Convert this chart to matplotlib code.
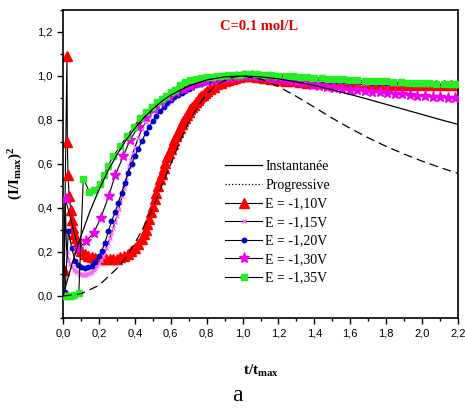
import matplotlib
matplotlib.use("Agg")
import matplotlib.pyplot as plt
from matplotlib.lines import Line2D
from matplotlib.ticker import MultipleLocator, FuncFormatter

# theoretical curves
inst_t = [0, 0.02, 0.05, 0.1, 0.15, 0.2, 0.25, 0.3, 0.35, 0.4, 0.45, 0.5, 0.55, 0.6, 0.7, 0.8,
          0.9, 1.0, 1.1, 1.2, 1.3, 1.4, 1.5, 1.6, 1.7, 1.8, 1.9, 2.0, 2.1, 2.2]
inst_y = [0, 0.06, 0.145, 0.272, 0.385, 0.482, 0.568, 0.642, 0.707, 0.762, 0.81, 0.85, 0.885, 0.913,
          0.955, 0.982, 0.996, 1.0, 0.996, 0.987, 0.973, 0.957, 0.937, 0.916, 0.894, 0.871, 0.848,
          0.825, 0.802, 0.78]
prog_t = [0, 0.1, 0.2, 0.3, 0.35, 0.4, 0.45, 0.5, 0.55, 0.6, 0.65, 0.7, 0.75, 0.8, 0.85, 0.9, 0.95,
          1.0, 1.1, 1.2, 1.3, 1.4, 1.5, 1.6, 1.7, 1.8, 1.9, 2.0, 2.1, 2.2]
prog_y = [0, 0.01, 0.048, 0.125, 0.175, 0.24, 0.315, 0.40, 0.50, 0.60, 0.70, 0.79, 0.86, 0.92, 0.955,
          0.98, 0.995, 1.0, 0.986, 0.952, 0.907, 0.858, 0.808, 0.762, 0.719, 0.68, 0.645, 0.613,
          0.584, 0.557]

# E = -1,10V (triangles)
red_t = [0.006, 0.022, 0.024, 0.028, 0.034, 0.044, 0.051, 0.058, 0.064, 0.07, 0.08, 0.09, 0.10,
         0.12, 0.14, 0.16, 0.18, 0.20, 0.22, 0.24, 0.26, 0.28, 0.30, 0.32, 0.34, 0.36, 0.38, 0.40,
         0.42, 0.44, 0.45, 0.46, 0.47, 0.48, 0.49, 0.50, 0.51, 0.52, 0.53, 0.54, 0.55, 0.56, 0.57,
         0.58, 0.59, 0.60, 0.61, 0.62, 0.63, 0.64, 0.65, 0.66, 0.67, 0.68, 0.69, 0.70, 0.71, 0.72,
         0.73, 0.74, 0.75, 0.76, 0.77, 0.78, 0.79, 0.80, 0.82, 0.84, 0.86, 0.88, 0.90, 0.92, 0.94,
         0.96, 0.98, 1.00, 1.02, 1.04, 1.06, 1.08, 1.10, 1.12, 1.14, 1.16, 1.18, 1.20, 1.24, 1.28,
         1.32, 1.36, 1.40, 1.44, 1.48, 1.52, 1.56, 1.60, 1.64, 1.68, 1.72, 1.76, 1.80, 1.84, 1.88,
         1.92, 1.96, 2.00, 2.04, 2.08, 2.12, 2.16, 2.20]
red_y = [0.12, 1.09, 0.70, 0.55, 0.455, 0.39, 0.345, 0.31, 0.28, 0.262, 0.238, 0.218, 0.205,
         0.19, 0.182, 0.176, 0.172, 0.169, 0.167, 0.166, 0.166, 0.167, 0.17, 0.175, 0.183, 0.193,
         0.205, 0.22, 0.238, 0.26, 0.28, 0.30, 0.325, 0.35, 0.38, 0.41, 0.44, 0.47, 0.50, 0.53,
         0.555, 0.58, 0.605, 0.63, 0.65, 0.67, 0.69, 0.71, 0.728, 0.745, 0.763, 0.78, 0.795, 0.81,
         0.823, 0.835, 0.848, 0.86, 0.87, 0.88, 0.89, 0.90, 0.908, 0.915, 0.923, 0.93, 0.942, 0.952,
         0.962, 0.97, 0.977, 0.983, 0.988, 0.992, 0.995, 0.998, 1.0, 1.0, 0.999, 0.997, 0.995,
         0.992, 0.99, 0.987, 0.985, 0.983, 0.979, 0.976, 0.973, 0.97, 0.968, 0.966, 0.965, 0.964,
         0.963, 0.962, 0.962, 0.961, 0.961, 0.96, 0.96, 0.96, 0.959, 0.959, 0.959, 0.958, 0.958,
         0.958, 0.957, 0.957, 0.957]

# E = -1,15V (x)
pink_t = [0.006, 0.012, 0.02, 0.03, 0.04, 0.05, 0.06, 0.07, 0.08, 0.09, 0.10, 0.11, 0.12, 0.13,
          0.14, 0.15, 0.16, 0.17, 0.18, 0.19, 0.20, 0.21, 0.22, 0.23, 0.24, 0.25, 0.26, 0.27, 0.28,
          0.29, 0.30, 0.31, 0.32, 0.33, 0.34, 0.35, 0.36, 0.37, 0.38, 0.39, 0.40, 0.42, 0.44, 0.46,
          0.48, 0.50, 0.52, 0.54, 0.56, 0.58, 0.60, 0.62, 0.64, 0.66, 0.68, 0.70, 0.72, 0.74, 0.76,
          0.78, 0.80, 0.84, 0.88, 0.92, 0.96, 1.00, 1.04, 1.08, 1.12, 1.16, 1.20, 1.24, 1.28, 1.32,
          1.36, 1.40, 1.44, 1.48, 1.52, 1.56, 1.60, 1.64, 1.68, 1.72, 1.76, 1.80, 1.84, 1.88, 1.92,
          1.96, 2.00, 2.04, 2.08, 2.12, 2.16, 2.20]
pink_y = [0.0, 0.44, 0.2, 0.165, 0.145, 0.13, 0.12, 0.113, 0.107, 0.101, 0.098, 0.096, 0.096,
          0.098, 0.101, 0.106, 0.11, 0.116, 0.125, 0.137, 0.15, 0.165, 0.18, 0.198, 0.218, 0.24,
          0.262, 0.285, 0.31, 0.337, 0.365, 0.395, 0.425, 0.455, 0.49, 0.525, 0.56, 0.59, 0.62,
          0.65, 0.675, 0.72, 0.76, 0.79, 0.82, 0.845, 0.865, 0.885, 0.9, 0.913, 0.925, 0.935, 0.944,
          0.952, 0.959, 0.965, 0.97, 0.975, 0.979, 0.983, 0.986, 0.991, 0.995, 0.998, 0.999, 1.0,
          0.998, 0.996, 0.994, 0.992, 0.99, 0.988, 0.986, 0.984, 0.982, 0.98, 0.978, 0.976, 0.974,
          0.973, 0.971, 0.97, 0.968, 0.967, 0.966, 0.965, 0.964, 0.963, 0.962, 0.961, 0.96, 0.959,
          0.958, 0.957, 0.956, 0.955]

# E = -1,20V (dots)
blue_t = [0.011, 0.03, 0.048, 0.067, 0.085, 0.10, 0.12, 0.14, 0.16, 0.18, 0.20, 0.215, 0.234,
          0.253, 0.27, 0.29, 0.308, 0.326, 0.345, 0.364, 0.383, 0.40, 0.42, 0.44, 0.46, 0.48, 0.50,
          0.52, 0.54, 0.56, 0.58, 0.60, 0.62, 0.64, 0.66, 0.68, 0.70, 0.72, 0.74, 0.76, 0.78, 0.80,
          0.82, 0.84, 0.86, 0.88, 0.90, 0.92, 0.94, 0.96, 0.98, 1.00, 1.04, 1.08, 1.12, 1.16, 1.20,
          1.24, 1.28, 1.32, 1.36, 1.40, 1.44, 1.48, 1.52, 1.56, 1.60, 1.64, 1.68, 1.72, 1.76, 1.80,
          1.84, 1.88, 1.92, 1.96, 2.00, 2.04, 2.08, 2.12, 2.16, 2.20]
blue_y = [0.02, 0.295, 0.22, 0.16, 0.14, 0.132, 0.128, 0.13, 0.138, 0.155, 0.18, 0.205, 0.243,
          0.295, 0.34, 0.38, 0.424, 0.47, 0.515, 0.56, 0.60, 0.635, 0.67, 0.705, 0.74, 0.77, 0.795,
          0.82, 0.84, 0.86, 0.876, 0.89, 0.903, 0.914, 0.924, 0.933, 0.942, 0.95, 0.957, 0.963,
          0.969, 0.974, 0.978, 0.982, 0.986, 0.989, 0.992, 0.994, 0.996, 0.998, 0.999, 1.0, 1.0,
          0.999, 0.997, 0.995, 0.993, 0.991, 0.989, 0.987, 0.985, 0.983, 0.981, 0.979, 0.977, 0.976,
          0.974, 0.973, 0.971, 0.97, 0.969, 0.968, 0.967, 0.966, 0.965, 0.964, 0.963, 0.962, 0.961,
          0.96, 0.959, 0.958]

# E = -1,30V (stars)
star_t = [0.014, 0.086, 0.128, 0.17, 0.21, 0.255, 0.29, 0.336, 0.373, 0.42, 0.462, 0.504, 0.546,
          0.588, 0.63, 0.672, 0.714, 0.756, 0.798, 0.84, 0.882, 0.924, 0.966, 1.008, 1.05, 1.092,
          1.134, 1.176, 1.218, 1.26, 1.302, 1.344, 1.386, 1.428, 1.47, 1.512, 1.554, 1.596, 1.638,
          1.68, 1.722, 1.764, 1.806, 1.848, 1.89, 1.932, 1.974, 2.016, 2.058, 2.10, 2.142, 2.184]
star_y = [0.44, 0.215, 0.25, 0.285, 0.355, 0.455, 0.548, 0.636, 0.709, 0.77, 0.814, 0.85, 0.88,
          0.905, 0.925, 0.942, 0.955, 0.966, 0.975, 0.982, 0.988, 0.993, 0.997, 0.999, 0.998,
          0.995, 0.991, 0.987, 0.983, 0.978, 0.972, 0.966, 0.96, 0.955, 0.95, 0.946, 0.942, 0.938,
          0.935, 0.932, 0.928, 0.925, 0.922, 0.919, 0.916, 0.913, 0.911, 0.909, 0.906, 0.904,
          0.902, 0.90]

# E = -1,35V (squares)
green_t = [0.003, 0.012, 0.022, 0.032, 0.045, 0.06, 0.088, 0.113, 0.147, 0.17, 0.206, 0.23, 0.25,
           0.28, 0.318, 0.355, 0.395, 0.43, 0.462, 0.494, 0.525, 0.55, 0.575, 0.60, 0.625, 0.65,
           0.68, 0.71, 0.74, 0.77, 0.80, 0.83, 0.86, 0.89, 0.92, 0.95, 0.98, 1.01, 1.04, 1.08, 1.12,
           1.16, 1.20, 1.24, 1.28, 1.32, 1.36, 1.40, 1.44, 1.48, 1.52, 1.56, 1.60, 1.64, 1.68, 1.72,
           1.76, 1.80, 1.84, 1.88, 1.92, 1.96, 2.00, 2.04, 2.08, 2.12, 2.16, 2.20]
green_y = [0.0, 0.0, 0.0, 0.0, 0.002, 0.005, 0.012, 0.534, 0.474, 0.48, 0.51, 0.55, 0.59, 0.636,
           0.68, 0.725, 0.77, 0.81, 0.836, 0.86, 0.88, 0.895, 0.91, 0.925, 0.935, 0.96, 0.972, 0.98,
           0.986, 0.99, 0.994, 0.997, 1.0, 1.002, 1.004, 1.005, 1.006, 1.007, 1.008, 1.008, 1.006,
           1.004, 1.002, 1.0, 0.998, 0.996, 0.994, 0.992, 0.99, 0.988, 0.986, 0.985, 0.983, 0.981,
           0.979, 0.978, 0.976, 0.975, 0.973, 0.972, 0.97, 0.969, 0.968, 0.967, 0.965, 0.964, 0.963,
           0.962]

plt.rcParams['mathtext.fontset'] = 'custom'
plt.rcParams['mathtext.rm'] = 'Liberation Serif'
plt.rcParams['mathtext.bf'] = 'Liberation Serif:bold'
serif = 'Liberation Serif'

fig = plt.figure(figsize=(4.65, 4.08), dpi=100)
ax = fig.add_axes([0.1355, 0.2206, 0.8495, 0.7549])

lw = 0.8
ax.plot(red_t, red_y, color='k', lw=lw, marker='^', ms=6.5, mfc='#ff0000', mec='#ff0000', zorder=2)
ax.plot(pink_t, pink_y, color='k', lw=lw, marker='x', ms=3.5, mew=1, mec='#ff66ff', zorder=3)
ax.plot(blue_t, blue_y, color='k', lw=lw, marker='o', ms=3.2, mfc='#0000cc', mec='#0000cc', zorder=4)
ax.plot(star_t, star_y, color='k', lw=lw, marker='*', ms=8, mfc='#ee00ee', mec='#ee00ee', zorder=5)
ax.plot(green_t, green_y, color='k', lw=lw, marker='s', ms=5, mfc='#22ee22', mec='#22ee22', zorder=6)
ax.plot(inst_t, inst_y, color='k', lw=0.9, zorder=7)
ax.plot(prog_t, prog_y, color='k', lw=0.9, ls=(0, (7, 4)), zorder=7)

ax.set_xlim(0, 2.2)
ax.set_ylim(-0.1, 1.3)
ax.xaxis.set_major_locator(MultipleLocator(0.2))
ax.xaxis.set_minor_locator(MultipleLocator(0.1))
ax.yaxis.set_major_locator(MultipleLocator(0.2))
ax.yaxis.set_minor_locator(MultipleLocator(0.1))
comma = FuncFormatter(lambda v, p: ('%.1f' % v).replace('.', ','))
ax.xaxis.set_major_formatter(comma)
ax.yaxis.set_major_formatter(comma)
ax.tick_params(which='both', direction='out', top=False, right=False, width=1)
ax.tick_params(which='major', length=4, labelsize=8)
ax.tick_params(which='minor', length=2.5)
for lab in ax.get_xticklabels() + ax.get_yticklabels():
    lab.set_fontfamily('Liberation Sans')
for s in ax.spines.values():
    s.set_linewidth(1.2)

ax.set_xlabel(r'$\mathbf{t/t_{max}}$', fontsize=11)
ax.xaxis.set_label_coords(0.5, -0.145)
ax.set_ylabel(r'$\mathbf{(I/I_{max})^2}$', fontsize=11)
ax.yaxis.set_label_coords(-0.095, 0.47)

ax.text(0.875, 1.226, 'C=0.1 mol/L', color='#dd0000', fontsize=10.5, fontweight='bold',
        family=serif, va='center')

handles = [
    Line2D([], [], color='k', lw=0.9),
    Line2D([], [], color='k', lw=0.9, ls=':'),
    Line2D([], [], color='k', lw=lw, marker='^', ms=6.5, mfc='#ff0000', mec='#ff0000'),
    Line2D([], [], color='k', lw=lw, marker='x', ms=3.5, mec='#ff66ff'),
    Line2D([], [], color='k', lw=lw, marker='o', ms=3.2, mfc='#0000cc', mec='#0000cc'),
    Line2D([], [], color='k', lw=lw, marker='*', ms=8, mfc='#ee00ee', mec='#ee00ee'),
    Line2D([], [], color='k', lw=lw, marker='s', ms=5, mfc='#22ee22', mec='#22ee22'),
]
labels = ['Instantanée', 'Progressive', 'E = -1,10V', 'E = -1,15V', 'E = -1,20V',
          'E = -1,30V', 'E = -1,35V']
ax.legend(handles, labels, loc='upper left', bbox_to_anchor=(0.41, 0.512), frameon=False,
          prop={'family': serif, 'size': 10}, handlelength=2.7, handletextpad=0.2,
          labelspacing=0.4, borderpad=0, borderaxespad=0)

fig.text(0.51, 0.004, 'a', family=serif, fontsize=17, ha='center', va='bottom')

fig.savefig('out.png', dpi=100)
